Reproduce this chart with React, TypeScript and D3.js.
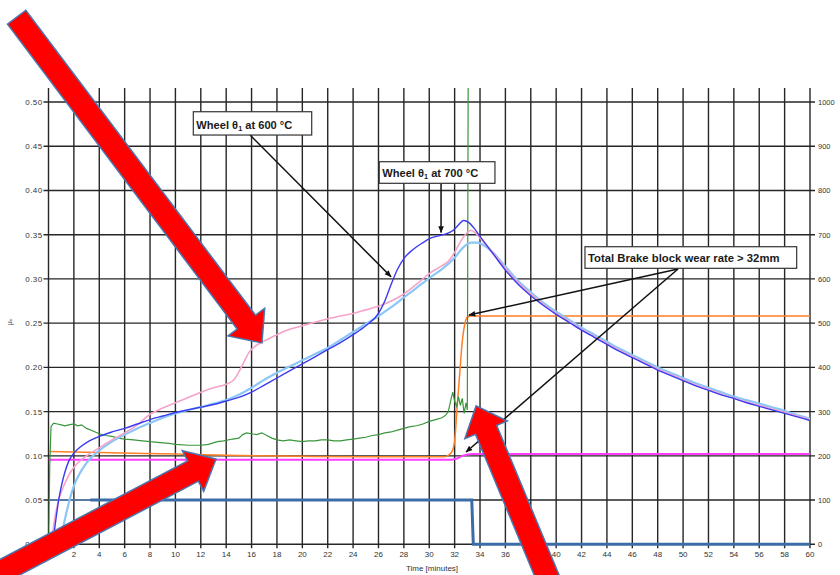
import React from 'react';
import * as d3 from 'd3';

type P = [number, number];

const TIME_TICKS = d3.range(0, 61, 2);
const MU_TICKS = d3.range(0, 11).map((i) => i * 0.05);
const TEMP_TICKS = d3.range(0, 1001, 100);

// dark blue curve
const WHEEL_BLUE: P[] = [
  [0.4, 0.008], [0.6, 0.03], [0.8, 0.05], [1.0, 0.065], [1.3, 0.082], [1.6, 0.094], [2, 0.103], [2.5, 0.11],
  [3, 0.115], [4, 0.122], [5, 0.127], [6, 0.131], [7, 0.136], [8, 0.141], [9, 0.145], [10, 0.149], [11, 0.152],
  [12, 0.155], [13, 0.158], [14, 0.162], [15, 0.166], [16, 0.172], [17, 0.18], [18, 0.188], [19, 0.196],
  [20, 0.204], [21, 0.212], [22, 0.22], [23, 0.228], [24, 0.237], [25, 0.247], [26, 0.261], [26.5, 0.275],
  [27, 0.294], [27.5, 0.311], [28, 0.323], [28.7, 0.333], [29.5, 0.341], [30.1, 0.346], [31.1, 0.35],
  [31.9, 0.355], [32.3, 0.361], [32.7, 0.366], [33.1, 0.364], [33.5, 0.358], [34, 0.348], [35, 0.329],
  [36, 0.31], [37, 0.294], [38, 0.281], [39, 0.27], [40, 0.26], [41, 0.251], [42, 0.242], [43, 0.234],
  [44, 0.226], [45, 0.218], [46, 0.211], [47, 0.204], [48, 0.197], [49, 0.191], [50, 0.185], [51, 0.179],
  [52, 0.174], [53, 0.169], [54, 0.165], [55, 0.16], [56, 0.156], [57, 0.152], [58, 0.148], [59, 0.144], [60, 0.14],
];

// pink curve
const WHEEL_PINK: P[] = [
  [0.3, 0.01], [0.5, 0.03], [0.8, 0.05], [1.2, 0.066], [1.6, 0.078], [2, 0.087], [3, 0.1], [4, 0.109],
  [5, 0.118], [6, 0.126], [7, 0.135], [8, 0.147], [9, 0.154], [10, 0.16], [11, 0.166], [12, 0.172],
  [13, 0.177], [14, 0.181], [14.6, 0.186], [15, 0.195], [15.4, 0.206], [15.8, 0.217], [16.2, 0.223],
  [17, 0.23], [18, 0.237], [19, 0.243], [20, 0.247], [21, 0.251], [22, 0.255], [23, 0.258], [24, 0.261],
  [25, 0.265], [26, 0.269], [27, 0.275], [28, 0.283], [29, 0.294], [30, 0.306], [31, 0.315], [31.5, 0.32],
  [32, 0.33], [32.5, 0.343], [32.9, 0.351], [33.3, 0.355], [33.7, 0.351], [34.2, 0.343], [35, 0.33],
  [36, 0.312], [37, 0.296], [38, 0.283], [39, 0.271], [40, 0.261], [41, 0.252], [42, 0.243], [43, 0.235],
  [44, 0.227], [45, 0.219], [46, 0.212], [47, 0.205], [48, 0.198], [49, 0.192], [50, 0.186], [51, 0.18],
  [52, 0.175], [53, 0.17], [54, 0.165], [55, 0.161], [56, 0.157], [57, 0.153], [58, 0.149], [59, 0.145], [60, 0.141],
];

// light blue curve
const WHEEL_LIGHT: P[] = [
  [0.9, 0.0], [1.1, 0.015], [1.4, 0.035], [1.7, 0.052], [2, 0.066], [2.5, 0.081], [3, 0.092], [4, 0.106],
  [5, 0.116], [6, 0.124], [7, 0.131], [8, 0.137], [9, 0.143], [10, 0.148], [11, 0.152], [12, 0.155],
  [13, 0.159], [14, 0.163], [15, 0.169], [16, 0.177], [17, 0.186], [18, 0.194], [19, 0.201], [20, 0.208],
  [21, 0.215], [22, 0.222], [23, 0.231], [24, 0.24], [25, 0.249], [26, 0.258], [27, 0.268], [28, 0.279],
  [29, 0.29], [30, 0.301], [31, 0.311], [32, 0.324], [32.7, 0.336], [33.3, 0.341], [33.8, 0.341],
  [34.4, 0.337], [35, 0.33], [36, 0.314], [37, 0.298], [38, 0.285], [39, 0.273], [40, 0.263], [41, 0.254],
  [42, 0.245], [43, 0.237], [44, 0.229], [45, 0.221], [46, 0.214], [47, 0.207], [48, 0.2], [49, 0.194],
  [50, 0.188], [51, 0.182], [52, 0.177], [53, 0.172], [54, 0.167], [55, 0.163], [56, 0.159], [57, 0.155],
  [58, 0.151], [59, 0.146], [60, 0.142],
];

// green curve
const GREEN: P[] = [
  [0, 0.0], [0.1, 0.09], [0.2, 0.133], [0.4, 0.137], [0.7, 0.136], [1.0, 0.135], [1.3, 0.134], [1.6, 0.135],
  [2.0, 0.136], [2.3, 0.134], [2.6, 0.135], [3.0, 0.131], [3.5, 0.128], [4, 0.125], [4.5, 0.123], [5, 0.122],
  [5.5, 0.12], [6, 0.119], [6.7, 0.118], [7.4, 0.117], [8, 0.116], [8.8, 0.115], [9.5, 0.114], [10, 0.113],
  [11, 0.112], [12, 0.112], [12.6, 0.113], [13.3, 0.116], [13.8, 0.117], [14.5, 0.119], [15, 0.12],
  [15.3, 0.124], [15.6, 0.126], [16, 0.125], [16.4, 0.124], [16.8, 0.126], [17.2, 0.123], [17.6, 0.12],
  [18, 0.118], [18.5, 0.117], [19, 0.118], [19.5, 0.117], [20, 0.116], [20.5, 0.117], [21, 0.117],
  [21.5, 0.118], [22, 0.118], [22.5, 0.117], [23, 0.117], [23.5, 0.118], [24, 0.119], [24.5, 0.12],
  [25, 0.121], [25.5, 0.123], [26, 0.124], [26.5, 0.126], [27, 0.127], [27.5, 0.129], [28, 0.131],
  [28.5, 0.133], [29, 0.134], [29.5, 0.136], [30, 0.139], [30.5, 0.141], [31, 0.143], [31.3, 0.146],
  [31.5, 0.15], [31.7, 0.163], [31.85, 0.172], [32.0, 0.162], [32.15, 0.156], [32.3, 0.167], [32.45, 0.157],
  [32.6, 0.165], [32.75, 0.148], [32.9, 0.16], [33.0, 0.152], [33.08, 0.6],
];

// orange curve
const ORANGE: P[] = [
  [0, 0.105], [5, 0.1035], [10, 0.102], [15, 0.1003], [20, 0.0995], [25, 0.099], [31.2, 0.099],
  [31.5, 0.1005], [31.8, 0.105], [32.0, 0.117], [32.2, 0.155], [32.4, 0.193], [32.6, 0.229], [32.8, 0.249],
  [33.0, 0.2565], [33.3, 0.258], [60, 0.258],
];

// magenta curve
const MAGENTA: P[] = [
  [0, 0.0955], [31.8, 0.0955], [32.2, 0.097], [32.6, 0.1], [33.0, 0.1015], [33.4, 0.102], [60, 0.102],
];

// steel blue step
const STEEL_START: P[] = [[0, 0.05], [3.3, 0.05]];
const STEEL: P[] = [[3.3, 0.05], [33.35, 0.05], [33.47, 0], [60, 0]];

const NOTE_LABELS = ['Wheel θ', 'Wheel θ', 'Total Brake block wear rate > 32mm'];
const NOTE_SUFFIX = [' at 600 °C', ' at 700 °C', ''];
const NOTE_POS: P[] = [[11.41, 0.489], [26.06, 0.4325], [42.27, 0.3364]];

const NOTE_ARROWS: [P, P][] = [
  [[15.88, 0.4627], [26.99, 0.3024]],
  [[30.93, 0.4081], [30.93, 0.3525]],
  [[49.6, 0.3112], [33.13, 0.2592]],
  [[49.6, 0.3112], [32.9, 0.1043]],
];

// big red overlay arrows: tail, tip (data coords)
const RED_ARROWS: [P, P][] = [
  [[-2.51, 0.5959], [16.82, 0.2277]],
  [[-5.4, -0.0436], [13.2, 0.0965]],
  [[40.07, -0.063], [33.69, 0.1565]],
];

export default function App() {
  const x = d3.scaleLinear().domain([0, 60]).range([48.5, 810]);
  const y = d3.scaleLinear().domain([0, 0.5]).range([544.3, 102]);
  const yR = d3.scaleLinear().domain([0, 1000]).range([544.3, 102]);

  const smooth = d3.line<P>().x((d) => x(d[0])).y((d) => y(d[1])).curve(d3.curveMonotoneX);
  const straight = d3.line<P>().x((d) => x(d[0])).y((d) => y(d[1]));

  const top = 88;
  const bottom = y(0);
  const left = x(0);
  const right = x(60);
  const font = "'Liberation Sans', Arial, sans-serif";

  const arrowPoly = (tail: P, tip: P) => {
    const x0 = x(tail[0]), y0 = y(tail[1]), x1 = x(tip[0]), y1 = y(tip[1]);
    const len = Math.hypot(x1 - x0, y1 - y0);
    const dx = (x1 - x0) / len, dy = (y1 - y0) / len;
    const px = -dy, py = dx;
    const w = 11.5, hw = 23, hl = 26;
    const bx = x1 - hl * dx, by = y1 - hl * dy;
    const pts: P[] = [
      [x0 + w * px, y0 + w * py], [bx + w * px, by + w * py], [bx + hw * px, by + hw * py], [x1, y1],
      [bx - hw * px, by - hw * py], [bx - w * px, by - w * py], [x0 - w * px, y0 - w * py],
    ];
    return pts.map((p) => p.join(',')).join(' ');
  };

  const boxW = [118.4, 115.7, 211.7];
  const boxH = [23.3, 21.6, 21.6];
  const textLen = [96, 96, 191.5];

  return (
    <svg width={840} height={575} style={{ position: 'absolute', left: 0, top: 0, background: '#fff' }}>
      <defs>
        <clipPath id="plotclip">
          <rect x={left} y={top} width={right - left} height={bottom - top + 2} />
        </clipPath>
        <marker id="ah" viewBox="0 0 10 10" refX="9" refY="5" markerWidth="7" markerHeight="7" orient="auto-start-reverse" markerUnits="userSpaceOnUse">
          <path d="M0,1 L10,5 L0,9 z" fill="#111" />
        </marker>
      </defs>
      <rect x={0} y={0} width={840} height={575} fill="#fff" />
      {/* grid */}
      {TIME_TICKS.map((t) => (
        <line key={'v' + t} x1={x(t)} x2={x(t)} y1={top} y2={bottom + 4} stroke="#262626" strokeWidth={1.4} />
      ))}
      {MU_TICKS.map((m) => (
        <line key={'h' + m} x1={left - 5} x2={right + 5} y1={y(m)} y2={y(m)} stroke="#262626" strokeWidth={1.4} />
      ))}
      {/* tick labels */}
      {MU_TICKS.map((m) => (
        <text key={'l' + m} x={42.5} y={y(m) + 3} textAnchor="end" fontSize={8} fill="#333" fontFamily={font} letterSpacing={0.4}>
          {d3.format('.2f')(m)}
        </text>
      ))}
      {TEMP_TICKS.map((v) => (
        <text key={'r' + v} x={818} y={yR(v) + 3} textAnchor="start" fontSize={7.5} fill="#333" fontFamily={font}>
          {v}
        </text>
      ))}
      {TIME_TICKS.map((t) => (
        <text key={'b' + t} x={x(t)} y={557} textAnchor="middle" fontSize={8} fill="#333" fontFamily={font}>
          {t}
        </text>
      ))}
      <text x={432} y={571} textAnchor="middle" fontSize={8} fill="#333" fontFamily={font}>Time [minutes]</text>
      <text transform="translate(12,322) rotate(-90)" textAnchor="middle" fontSize={7} fill="#444" fontFamily={font}>μₑ</text>

      {/* series */}
      <g clipPath="url(#plotclip)" fill="none">
        <path d={straight(STEEL_START) || ''} stroke="#5b84b8" strokeWidth={1.6} />
        <path d={straight(STEEL) || ''} stroke="#3b6ca8" strokeWidth={3} />
        <path d={straight(MAGENTA) || ''} stroke="#ff3cff" strokeWidth={2} />
        <path d={smooth(ORANGE) || ''} stroke="#ff7f27" strokeWidth={1.5} />
        <path d={straight(GREEN) || ''} stroke="#3a963a" strokeWidth={1.2} />
        <path d={smooth(WHEEL_LIGHT) || ''} stroke="#8cc6f7" strokeWidth={2.2} />
        <path d={smooth(WHEEL_PINK) || ''} stroke="#f5a3cb" strokeWidth={1.6} />
        <path d={smooth(WHEEL_BLUE) || ''} stroke="#3b3bef" strokeWidth={1.4} />
      </g>

      {/* annotations */}
      {NOTE_ARROWS.map(([a, b], i) => (
        <line key={'na' + i} x1={x(a[0])} y1={y(a[1])} x2={x(b[0])} y2={y(b[1])} stroke="#111" strokeWidth={1.5} markerEnd="url(#ah)" />
      ))}
      {NOTE_LABELS.map((lab, i) => {
        const bx = x(NOTE_POS[i][0]);
        const by = y(NOTE_POS[i][1]);
        return (
          <g key={'n' + i}>
            <rect x={bx} y={by} width={boxW[i]} height={boxH[i]} fill="#fff" stroke="#333" strokeWidth={1.2} />
            <text x={bx + 3} y={by + boxH[i] - 6} fontSize={11.5} fontWeight="bold" fill="#1a1a1a" fontFamily={font}
              textLength={textLen[i]} lengthAdjust="spacingAndGlyphs">
              {lab}
              {NOTE_SUFFIX[i] ? (
                <>
                  <tspan fontSize={7.5} dy={2}>1</tspan>
                  <tspan dy={-2}>{NOTE_SUFFIX[i]}</tspan>
                </>
              ) : null}
            </text>
          </g>
        );
      })}

      {/* red overlay arrows */}
      {RED_ARROWS.map(([a, b], i) => (
        <polygon key={'ra' + i} points={arrowPoly(a, b)} fill="#ff0000" stroke="#4a76ad" strokeWidth={1.5} strokeLinejoin="miter" />
      ))}
    </svg>
  );
}
